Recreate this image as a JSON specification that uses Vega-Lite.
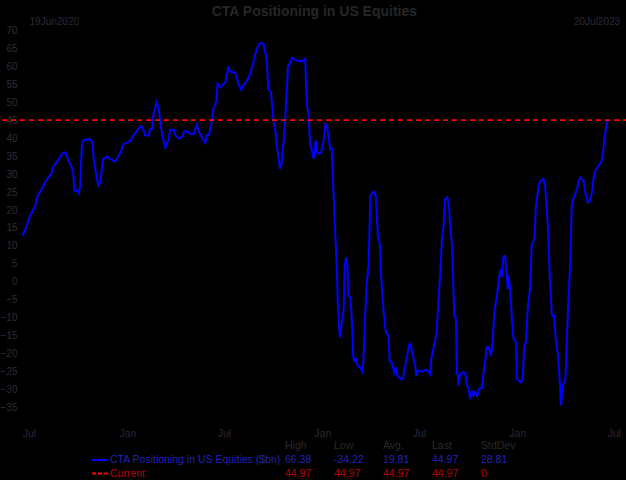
{
  "$schema": "https://vega.github.io/schema/vega-lite/v6.json",
  "background": "#000000",
  "padding": {"top": 5, "left": 0, "right": 0, "bottom": 0},
  "autosize": {"type": "pad"},
  "title": {"text": "CTA Positioning in US Equities", "anchor": "middle", "fontSize": 14, "font": "Liberation Sans", "fontWeight": "bold", "color": "#262626", "offset": -2},
  "spacing": 22,
  "bounds": "flush",
  "config": {"view": {"stroke": null}, "font": "Liberation Sans"},
  "datasets": {
    "series": [
      {"date": "2020-06-19", "value": 12.9}, {"date": "2020-06-27", "value": 15.6}, {"date": "2020-07-03", "value": 18.4}, {"date": "2020-07-13", "value": 21.2},
      {"date": "2020-07-16", "value": 23.6}, {"date": "2020-07-25", "value": 25.8}, {"date": "2020-07-31", "value": 27.7}, {"date": "2020-08-13", "value": 30.5},
      {"date": "2020-08-15", "value": 31.9}, {"date": "2020-08-22", "value": 33.3}, {"date": "2020-09-01", "value": 35.6}, {"date": "2020-09-07", "value": 36.0},
      {"date": "2020-09-10", "value": 35.1}, {"date": "2020-09-13", "value": 33.7}, {"date": "2020-09-19", "value": 31.9}, {"date": "2020-09-22", "value": 30.0},
      {"date": "2020-09-24", "value": 25.4}, {"date": "2020-09-29", "value": 25.4}, {"date": "2020-10-02", "value": 24.6}, {"date": "2020-10-05", "value": 26.8},
      {"date": "2020-10-08", "value": 37.9}, {"date": "2020-10-11", "value": 39.4}, {"date": "2020-10-23", "value": 39.7}, {"date": "2020-10-28", "value": 38.8},
      {"date": "2020-10-30", "value": 34.6}, {"date": "2020-11-05", "value": 28.6}, {"date": "2020-11-08", "value": 26.9}, {"date": "2020-11-11", "value": 27.7},
      {"date": "2020-11-17", "value": 34.2}, {"date": "2020-11-24", "value": 34.8}, {"date": "2020-12-03", "value": 33.9}, {"date": "2020-12-09", "value": 33.4},
      {"date": "2020-12-18", "value": 35.6}, {"date": "2020-12-25", "value": 38.3}, {"date": "2021-01-01", "value": 38.8}, {"date": "2021-01-07", "value": 39.3},
      {"date": "2021-01-13", "value": 40.8}, {"date": "2021-01-19", "value": 42.0}, {"date": "2021-01-27", "value": 43.4}, {"date": "2021-02-01", "value": 42.0},
      {"date": "2021-02-03", "value": 40.8}, {"date": "2021-02-10", "value": 40.6}, {"date": "2021-02-13", "value": 42.5}, {"date": "2021-02-16", "value": 42.5},
      {"date": "2021-02-19", "value": 46.7}, {"date": "2021-02-25", "value": 49.9}, {"date": "2021-03-01", "value": 48.0}, {"date": "2021-03-03", "value": 45.3},
      {"date": "2021-03-08", "value": 40.6}, {"date": "2021-03-13", "value": 37.4}, {"date": "2021-03-19", "value": 39.3}, {"date": "2021-03-22", "value": 42.3},
      {"date": "2021-03-29", "value": 42.3}, {"date": "2021-04-02", "value": 40.5}, {"date": "2021-04-07", "value": 39.9}, {"date": "2021-04-13", "value": 40.2},
      {"date": "2021-04-18", "value": 41.8}, {"date": "2021-04-24", "value": 41.8}, {"date": "2021-04-29", "value": 41.1}, {"date": "2021-05-05", "value": 41.1},
      {"date": "2021-05-11", "value": 43.6}, {"date": "2021-05-17", "value": 41.1}, {"date": "2021-05-24", "value": 39.3}, {"date": "2021-05-27", "value": 38.6},
      {"date": "2021-05-30", "value": 40.8}, {"date": "2021-06-03", "value": 40.8}, {"date": "2021-06-08", "value": 44.4}, {"date": "2021-06-11", "value": 48.0},
      {"date": "2021-06-17", "value": 50.4}, {"date": "2021-06-19", "value": 55.0}, {"date": "2021-06-24", "value": 54.1}, {"date": "2021-06-30", "value": 55.0},
      {"date": "2021-07-04", "value": 55.6}, {"date": "2021-07-09", "value": 59.6}, {"date": "2021-07-12", "value": 58.7}, {"date": "2021-07-16", "value": 58.3},
      {"date": "2021-07-22", "value": 58.3}, {"date": "2021-07-28", "value": 55.0}, {"date": "2021-08-02", "value": 53.4}, {"date": "2021-08-06", "value": 54.5},
      {"date": "2021-08-13", "value": 55.9}, {"date": "2021-08-19", "value": 57.8}, {"date": "2021-08-25", "value": 61.0}, {"date": "2021-08-31", "value": 64.5},
      {"date": "2021-09-06", "value": 66.38}, {"date": "2021-09-13", "value": 66.2}, {"date": "2021-09-19", "value": 61.9}, {"date": "2021-09-22", "value": 53.6},
      {"date": "2021-09-27", "value": 52.7}, {"date": "2021-10-02", "value": 44.4}, {"date": "2021-10-05", "value": 42.5}, {"date": "2021-10-08", "value": 37.9},
      {"date": "2021-10-14", "value": 31.4}, {"date": "2021-10-17", "value": 33.2}, {"date": "2021-10-21", "value": 39.7}, {"date": "2021-10-24", "value": 46.2},
      {"date": "2021-10-29", "value": 60.1}, {"date": "2021-11-02", "value": 60.6}, {"date": "2021-11-05", "value": 62.3}, {"date": "2021-11-14", "value": 61.5},
      {"date": "2021-11-24", "value": 61.3}, {"date": "2021-11-30", "value": 62.0}, {"date": "2021-12-03", "value": 49.9}, {"date": "2021-12-07", "value": 45.3},
      {"date": "2021-12-09", "value": 38.8}, {"date": "2021-12-16", "value": 34.2}, {"date": "2021-12-19", "value": 38.8}, {"date": "2021-12-20", "value": 39.3},
      {"date": "2021-12-22", "value": 36.0}, {"date": "2021-12-25", "value": 35.6}, {"date": "2021-12-30", "value": 36.0}, {"date": "2022-01-04", "value": 39.7},
      {"date": "2022-01-07", "value": 43.9}, {"date": "2022-01-10", "value": 43.4}, {"date": "2022-01-13", "value": 40.2}, {"date": "2022-01-16", "value": 36.9},
      {"date": "2022-01-19", "value": 36.9}, {"date": "2022-01-22", "value": 24.9}, {"date": "2022-01-25", "value": 14.7}, {"date": "2022-01-29", "value": 0.8},
      {"date": "2022-01-30", "value": -6.6}, {"date": "2022-02-01", "value": -11.2}, {"date": "2022-02-03", "value": -15.4}, {"date": "2022-02-06", "value": -12.1},
      {"date": "2022-02-10", "value": -7.5}, {"date": "2022-02-12", "value": 4.5}, {"date": "2022-02-15", "value": 6.9}, {"date": "2022-02-17", "value": 4.5},
      {"date": "2022-02-19", "value": -3.8}, {"date": "2022-02-23", "value": -4.3}, {"date": "2022-02-27", "value": -15.8}, {"date": "2022-02-28", "value": -20.9},
      {"date": "2022-03-03", "value": -21.9}, {"date": "2022-03-05", "value": -21.4}, {"date": "2022-03-08", "value": -23.2}, {"date": "2022-03-13", "value": -23.7},
      {"date": "2022-03-17", "value": -24.9}, {"date": "2022-03-19", "value": -21.9}, {"date": "2022-03-22", "value": -10.3}, {"date": "2022-03-25", "value": -1.0},
      {"date": "2022-03-29", "value": 5.5}, {"date": "2022-04-01", "value": 24.0}, {"date": "2022-04-05", "value": 24.9}, {"date": "2022-04-09", "value": 24.9},
      {"date": "2022-04-11", "value": 24.0}, {"date": "2022-04-15", "value": 13.3}, {"date": "2022-04-19", "value": 10.1}, {"date": "2022-04-21", "value": 1.75},
      {"date": "2022-04-26", "value": -8.4}, {"date": "2022-04-30", "value": -14.0}, {"date": "2022-05-05", "value": -14.9}, {"date": "2022-05-07", "value": -21.9},
      {"date": "2022-05-11", "value": -22.3}, {"date": "2022-05-16", "value": -25.1}, {"date": "2022-05-19", "value": -23.7}, {"date": "2022-05-22", "value": -26.0},
      {"date": "2022-05-27", "value": -26.9}, {"date": "2022-06-01", "value": -26.9}, {"date": "2022-06-04", "value": -24.2}, {"date": "2022-06-09", "value": -20.5},
      {"date": "2022-06-12", "value": -17.7}, {"date": "2022-06-15", "value": -17.2}, {"date": "2022-06-18", "value": -19.1}, {"date": "2022-06-21", "value": -21.4},
      {"date": "2022-06-24", "value": -23.2}, {"date": "2022-06-26", "value": -26.0}, {"date": "2022-06-29", "value": -24.6}, {"date": "2022-07-03", "value": -24.9},
      {"date": "2022-07-10", "value": -24.6}, {"date": "2022-07-14", "value": -24.4}, {"date": "2022-07-19", "value": -24.9}, {"date": "2022-07-22", "value": -25.6},
      {"date": "2022-07-24", "value": -21.4}, {"date": "2022-07-28", "value": -18.6}, {"date": "2022-08-03", "value": -14.0}, {"date": "2022-08-07", "value": -3.8},
      {"date": "2022-08-10", "value": 2.7}, {"date": "2022-08-13", "value": 11.9}, {"date": "2022-08-16", "value": 15.6}, {"date": "2022-08-19", "value": 23.1},
      {"date": "2022-08-23", "value": 23.5}, {"date": "2022-08-26", "value": 21.2}, {"date": "2022-08-29", "value": 14.7}, {"date": "2022-09-01", "value": 10.1},
      {"date": "2022-09-03", "value": 0.8}, {"date": "2022-09-05", "value": -9.4}, {"date": "2022-09-08", "value": -9.8}, {"date": "2022-09-10", "value": -25.1},
      {"date": "2022-09-12", "value": -26.0}, {"date": "2022-09-13", "value": -28.8}, {"date": "2022-09-16", "value": -25.6}, {"date": "2022-09-23", "value": -25.1},
      {"date": "2022-09-26", "value": -25.6}, {"date": "2022-09-29", "value": -28.8}, {"date": "2022-10-02", "value": -29.7}, {"date": "2022-10-05", "value": -32.5},
      {"date": "2022-10-08", "value": -30.2}, {"date": "2022-10-11", "value": -31.6}, {"date": "2022-10-14", "value": -30.6}, {"date": "2022-10-18", "value": -31.6},
      {"date": "2022-10-21", "value": -29.7}, {"date": "2022-10-27", "value": -29.3}, {"date": "2022-10-30", "value": -25.1}, {"date": "2022-11-02", "value": -21.9},
      {"date": "2022-11-05", "value": -18.1}, {"date": "2022-11-09", "value": -18.1}, {"date": "2022-11-13", "value": -20.5}, {"date": "2022-11-16", "value": -16.3},
      {"date": "2022-11-19", "value": -8.4}, {"date": "2022-11-24", "value": -3.8}, {"date": "2022-11-28", "value": 1.3}, {"date": "2022-12-01", "value": 3.6},
      {"date": "2022-12-03", "value": 1.3}, {"date": "2022-12-06", "value": 6.9}, {"date": "2022-12-09", "value": 7.3}, {"date": "2022-12-11", "value": 4.5},
      {"date": "2022-12-14", "value": -1.9}, {"date": "2022-12-16", "value": 1.75}, {"date": "2022-12-19", "value": -2.9}, {"date": "2022-12-22", "value": -10.3},
      {"date": "2022-12-25", "value": -15.8}, {"date": "2022-12-30", "value": -16.8}, {"date": "2022-12-31", "value": -26.9}, {"date": "2023-01-04", "value": -27.4},
      {"date": "2023-01-08", "value": -27.9}, {"date": "2023-01-11", "value": -26.9}, {"date": "2023-01-14", "value": -17.7}, {"date": "2023-01-17", "value": -16.8},
      {"date": "2023-01-21", "value": -6.6}, {"date": "2023-01-25", "value": -1.9}, {"date": "2023-01-28", "value": 10.1}, {"date": "2023-02-02", "value": 11.9},
      {"date": "2023-02-05", "value": 21.2}, {"date": "2023-02-10", "value": 26.8}, {"date": "2023-02-13", "value": 28.1}, {"date": "2023-02-19", "value": 28.6},
      {"date": "2023-02-22", "value": 26.8}, {"date": "2023-02-27", "value": 16.6}, {"date": "2023-03-03", "value": 0.8}, {"date": "2023-03-07", "value": -9.4},
      {"date": "2023-03-11", "value": -9.4}, {"date": "2023-03-14", "value": -15.8}, {"date": "2023-03-19", "value": -21.4}, {"date": "2023-03-22", "value": -28.8},
      {"date": "2023-03-24", "value": -34.22}, {"date": "2023-03-27", "value": -28.8}, {"date": "2023-04-01", "value": -27.4}, {"date": "2023-04-04", "value": -14.9},
      {"date": "2023-04-07", "value": -3.8}, {"date": "2023-04-10", "value": 4.5}, {"date": "2023-04-13", "value": 21.2}, {"date": "2023-04-16", "value": 23.1},
      {"date": "2023-04-23", "value": 25.8}, {"date": "2023-04-26", "value": 28.1}, {"date": "2023-04-29", "value": 29.1}, {"date": "2023-05-05", "value": 28.1},
      {"date": "2023-05-08", "value": 24.9}, {"date": "2023-05-13", "value": 22.1}, {"date": "2023-05-17", "value": 22.6}, {"date": "2023-05-21", "value": 24.9},
      {"date": "2023-05-24", "value": 29.1}, {"date": "2023-05-27", "value": 30.9}, {"date": "2023-06-02", "value": 32.3}, {"date": "2023-06-07", "value": 33.2},
      {"date": "2023-06-10", "value": 35.1}, {"date": "2023-06-13", "value": 39.7}, {"date": "2023-06-16", "value": 42.5}, {"date": "2023-06-19", "value": 44.97}
    ],
    "current": [{"value": 44.97}],
    "header": [
      {"label": "19Jun2020", "date": "2020-06-19", "side": "start"},
      {"label": "20Jul2023", "date": "2023-07-20", "side": "end"}
    ],
    "table": [
      {"row": "header", "col": "High", "text": "High"},
      {"row": "header", "col": "Low", "text": "Low"},
      {"row": "header", "col": "Avg.", "text": "Avg."},
      {"row": "header", "col": "Last", "text": "Last"},
      {"row": "header", "col": "StdDev", "text": "StdDev"},
      {"row": "CTA", "col": "name", "text": "CTA Positioning in US Equities ($bn)"},
      {"row": "CTA", "col": "High", "text": "66.38"},
      {"row": "CTA", "col": "Low", "text": "-34.22"},
      {"row": "CTA", "col": "Avg.", "text": "19.81"},
      {"row": "CTA", "col": "Last", "text": "44.97"},
      {"row": "CTA", "col": "StdDev", "text": "28.81"},
      {"row": "Current", "col": "name", "text": "Current"},
      {"row": "Current", "col": "High", "text": "44.97"},
      {"row": "Current", "col": "Low", "text": "44.97"},
      {"row": "Current", "col": "Avg.", "text": "44.97"},
      {"row": "Current", "col": "Last", "text": "44.97"},
      {"row": "Current", "col": "StdDev", "text": "0"}
    ],
    "keys": [{"row": "CTA", "col": "name"}, {"row": "Current", "col": "name"}]
  },
  "vconcat": [
    {
      "width": 626,
      "height": 400,
      "layer": [
        {
          "data": {"name": "series"},
          "mark": {"type": "line", "color": "#0000ff", "strokeWidth": 2},
          "encoding": {
            "x": {
              "field": "date", "type": "temporal",
              "scale": {"type": "utc", "domain": [{"year": 2020, "month": 5, "date": 11, "hours": 13, "utc": true}, {"year": 2023, "month": 7, "date": 27, "hours": 7, "utc": true}]},
              "axis": {
                "values": [
                  {"year": 2020, "month": 7, "date": 1, "utc": true}, {"year": 2021, "month": 1, "date": 1, "utc": true},
                  {"year": 2021, "month": 7, "date": 1, "utc": true}, {"year": 2022, "month": 1, "date": 1, "utc": true},
                  {"year": 2022, "month": 7, "date": 1, "utc": true}, {"year": 2023, "month": 1, "date": 1, "utc": true},
                  {"year": 2023, "month": 7, "date": 1, "utc": true}
                ],
                "tickCount": 20,
                "labelExpr": "utcFormat(datum.value, '%b')", "title": null, "domain": false, "ticks": false, "grid": false,
                "labelPadding": 9, "labelFontSize": 10.5, "labelColor": "#2c2838", "labelFlush": false, "labelOverlap": false
              }
            },
            "y": {
              "field": "value", "type": "quantitative",
              "scale": {"domain": [-38.06, 73.06], "nice": false, "zero": false},
              "axis": {
                "values": [-35, -30, -25, -20, -15, -10, -5, 0, 5, 10, 15, 20, 25, 30, 35, 40, 45, 50, 55, 60, 65, 70],
                "tickCount": 40,
                "offset": -17, "labelPadding": 2, "ticks": false, "domain": false, "grid": false, "title": null,
                "labelFontSize": 10, "labelColor": "#382830", "labelOverlap": false, "labelFlush": false
              }
            }
          }
        },
        {
          "data": {"name": "current"},
          "mark": {"type": "rule", "color": "#ff0000", "strokeDash": [5, 4], "strokeWidth": 1.6},
          "encoding": {"y": {"field": "value", "type": "quantitative"}}
        },
        {
          "data": {"name": "header"},
          "transform": [{"filter": "datum.side === 'start'"}],
          "mark": {"type": "text", "align": "left", "baseline": "middle", "dx": 7, "fontSize": 10, "color": "#2c2838"},
          "encoding": {"x": {"field": "date", "type": "temporal"}, "y": {"datum": 72.2}, "text": {"field": "label"}}
        },
        {
          "data": {"name": "header"},
          "transform": [{"filter": "datum.side === 'end'"}],
          "mark": {"type": "text", "align": "right", "baseline": "middle", "dx": -4, "fontSize": 10, "color": "#2c2838"},
          "encoding": {"x": {"field": "date", "type": "temporal"}, "y": {"datum": 72.2}, "text": {"field": "label"}}
        }
      ]
    },
    {
      "width": 626,
      "height": 38,
      "encoding": {
        "x": {"field": "col", "type": "nominal", "scale": {"type": "point", "domain": ["name", "gap1", "gap2", "gap3", "High", "Low", "Avg.", "Last", "StdDev"], "range": [87, 479], "padding": 0}, "axis": null},
        "y": {"field": "row", "type": "nominal", "scale": {"type": "point", "domain": ["header", "CTA", "Current"], "padding": 0.4}, "axis": null}
      },
      "layer": [
        {
          "data": {"name": "keys"},
          "mark": {"type": "point", "shape": "M0.375,0H2.375", "size": 256, "strokeWidth": 2, "filled": false, "opacity": 1},
          "encoding": {
            "stroke": {"field": "row", "type": "nominal", "scale": {"domain": ["CTA", "Current"], "range": ["#0000ff", "#ff0000"]}, "legend": null},
            "strokeDash": {"field": "row", "type": "nominal", "scale": {"domain": ["CTA", "Current"], "range": [[1, 0], [4, 2]]}, "legend": null}
          }
        },
        {
          "data": {"name": "table"},
          "transform": [{"filter": "datum.col === 'name'"}],
          "mark": {"type": "text", "align": "left", "baseline": "middle", "dx": 21, "fontSize": 10.5},
          "encoding": {
            "text": {"field": "text"},
            "color": {"field": "row", "type": "nominal", "scale": {"domain": ["header", "CTA", "Current"], "range": ["#2a2a2a", "#2020b8", "#b80000"]}, "legend": null}
          }
        },
        {
          "data": {"name": "table"},
          "transform": [{"filter": "datum.col !== 'name'"}],
          "mark": {"type": "text", "align": "left", "baseline": "middle", "fontSize": 10.5},
          "encoding": {
            "text": {"field": "text"},
            "color": {"field": "row", "type": "nominal", "scale": {"domain": ["header", "CTA", "Current"], "range": ["#2a2a2a", "#2020b8", "#b80000"]}, "legend": null}
          }
        }
      ]
    }
  ]
}
